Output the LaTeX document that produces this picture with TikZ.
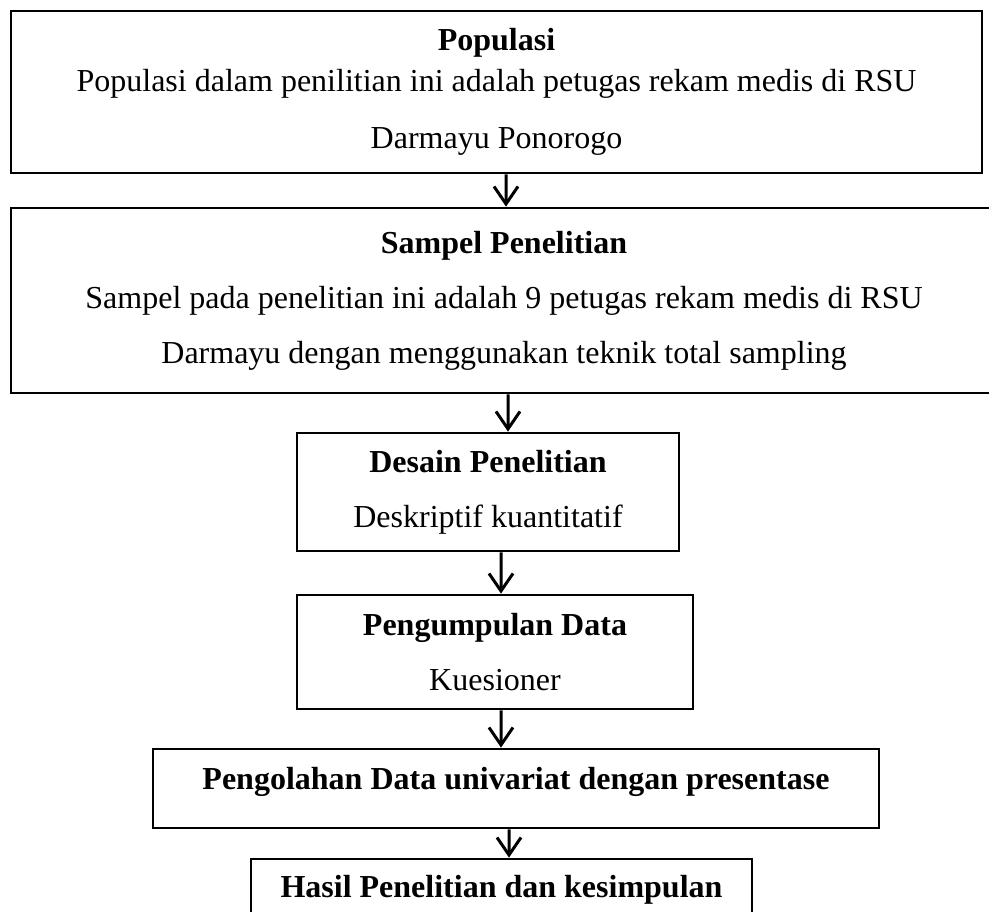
\documentclass[tikz,border=0pt]{standalone}
\usepackage{fontspec}
\setmainfont{Liberation Serif}
\usetikzlibrary{arrows.meta}

\tikzset{
  box/.style={draw, line width=1.1pt, inner sep=0pt, align=center, font=\fontsize{12.8}{22}\selectfont},
  arr/.style={-{Straight Barb[length=7pt,width=9.6pt]}, line width=1.2pt}
}

\begin{document}
\begin{tikzpicture}[x=0.4pt,y=-0.4pt]
\useasboundingbox (0,0) rectangle (989,912);
\node[box, minimum width=388.4pt, minimum height=64.8pt] (pop) at (496.5,92) {\textbf{Populasi}\\[-5.6pt]Populasi dalam penilitian ini adalah petugas rekam medis di RSU\\[0.8pt]Darmayu Ponorogo};
\node[box, minimum width=394.4pt, minimum height=74pt] (sam) at (504,300.5) {\textbf{Sampel Penelitian}\\Sampel pada penelitian ini adalah 9 petugas rekam medis di RSU\\Darmayu dengan menggunakan teknik total sampling};
\node[box, minimum width=152.8pt, minimum height=47.2pt] (des) at (488,492) {\textbf{Desain Penelitian}\\Deskriptif kuantitatif};
\node[box, minimum width=158.4pt, minimum height=45.6pt] (pen) at (495,652) {\textbf{Pengumpulan Data}\\Kuesioner};
\node[box, minimum width=290.4pt, minimum height=31.6pt, text depth=8pt] (olah) at (516,788.5) {\textbf{Pengolahan Data univariat dengan presentase}};
\node[box, minimum width=200.4pt, minimum height=24.8pt] (has) at (501.5,890) {\textbf{Hasil Penelitian dan kesimpulan}};
\draw[arr] ([xshift=3.8pt]pop.south) -- ([xshift=0.8pt]sam.north);
\draw[arr] ([xshift=1.6pt]sam.south) -- ([xshift=8pt]des.north);
\draw[arr] ([xshift=5.2pt]des.south) -- ([xshift=2.4pt]pen.north);
\draw[arr] ([xshift=2.4pt]pen.south) -- ([xshift=-6pt]olah.north);
\draw[arr] ([xshift=-2.8pt]olah.south) -- ([xshift=3pt]has.north);
\end{tikzpicture}
\end{document}
